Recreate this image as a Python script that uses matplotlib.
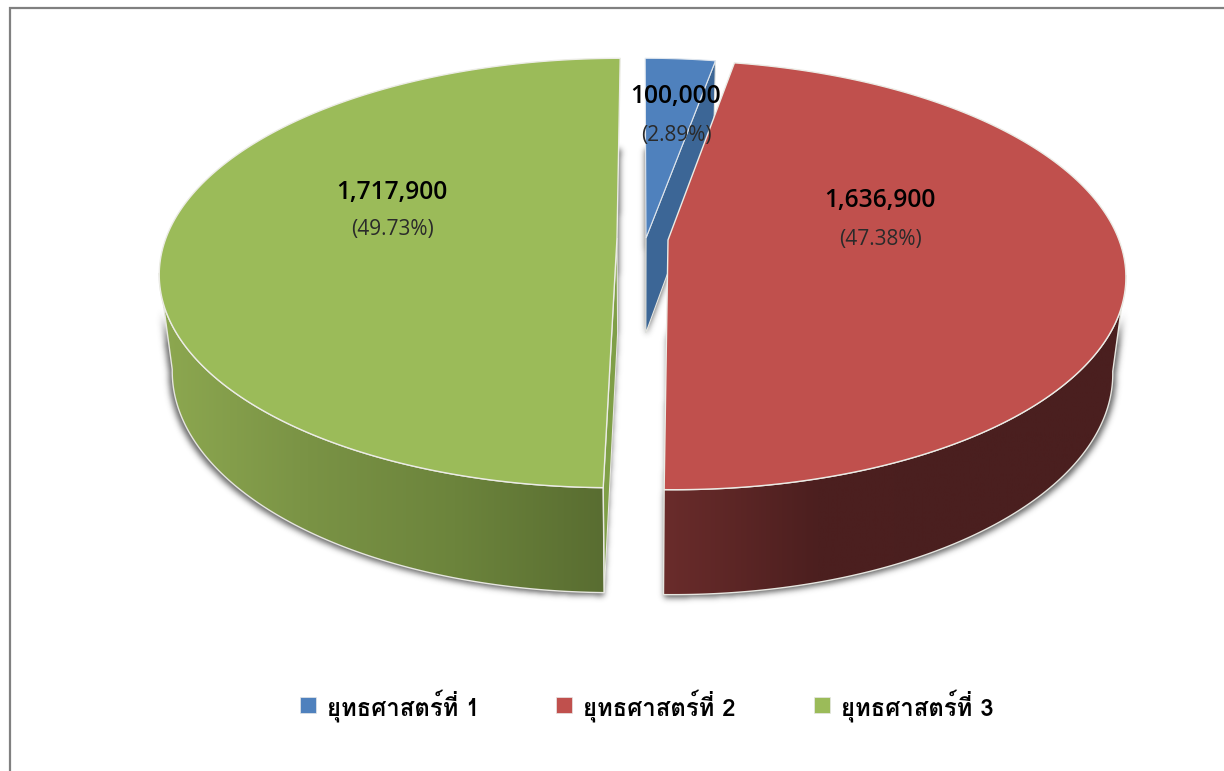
"""Exploded 3D pie of budget per strategy, drawn in pixel coordinates"""

import numpy as np
import matplotlib
matplotlib.use('Agg')
import matplotlib.pyplot as plt
from matplotlib.colors import LinearSegmentedColormap
from matplotlib.patches import Polygon, Rectangle
from matplotlib.path import Path

categories = ['ยุทธศาสตร์ที่ 1', 'ยุทธศาสตร์ที่ 2', 'ยุทธศาสตร์ที่ 3']
values = [100000, 1636900, 1717900]
percents = ['(2.89%)', '(47.38%)', '(49.73%)']
colors = ['#4F81BD', '#C0504D', '#9BBB59']

# Look of the 3D pie, in pixels
W, H = 1224, 771
VX = 640          # vanishing point x
K = 0.163         # perspective strength
A, B = 451, 209   # ellipse axes
SHRINK = 0.973    # the lower rim is a bit narrower
DEPTH = 95
apex = [(646, 238), (668, 240), (617, 238)]
label_pos = [(676, 97, 136), (880, 201, 240), (392, 192, 229)]
legend_x = [300, 556, 814]
WIDEST = np.arccos(-K)   # angle where the rim is widest on screen

fig = plt.figure(figsize=(W / 100, H / 100), dpi=100)
ax = fig.add_axes([0, 0, 1, 1])
ax.set_xlim(0, W)
ax.set_ylim(H, 0)
ax.axis('off')


def top_rim(theta, center):
    w = 1 + K * np.cos(theta)
    x = VX + (center[0] - VX + A * np.sin(theta)) / w
    y = center[1] - B * np.cos(theta) / w
    return np.column_stack([x, y]), w


def low_rim(pts, w):
    x = VX + (pts[:, 0] - VX) * SHRINK
    y = pts[:, 1] + DEPTH * w ** -0.56
    return np.column_stack([x, y])


def gradient_wall(poly, stops):
    patch = Polygon(poly, closed=True, facecolor='none', edgecolor='#e6e6e0', lw=1.0, zorder=3)
    ax.add_patch(patch)
    cmap = LinearSegmentedColormap.from_list('wall', stops)
    x0, x1 = poly[:, 0].min(), poly[:, 0].max()
    y0, y1 = poly[:, 1].min(), poly[:, 1].max()
    im = ax.imshow(np.linspace(0, 1, 256)[None, :], extent=(x0, x1, y1, y0), cmap=cmap,
                   aspect='auto', zorder=2.5)
    im.set_clip_path(patch)


# Slice angles, clockwise from the top
fractions = np.array(values) / sum(values)
edges = np.concatenate([[0], np.cumsum(fractions)]) * 2 * np.pi
ang = [np.linspace(edges[i], edges[i + 1], 240) for i in range(3)]

# Round walls of red and green
wall_polys = {}
for i, wall_range in [(1, (WIDEST, edges[2])), (2, (edges[2], 2 * np.pi - WIDEST))]:
    th = np.linspace(wall_range[0], wall_range[1], 240)
    rim, w = top_rim(th, apex[i])
    wall_polys[i] = np.vstack([rim, low_rim(rim, w)[::-1]])

# Soft shadow of the lower rims and the walls
yy, xx = np.mgrid[0:H, 0:W]
grid = np.column_stack([xx.ravel() + 0.5, yy.ravel() + 0.5])
mask = np.zeros(H * W)
shapes = list(wall_polys.values())
for i in range(3):
    rim, w = top_rim(ang[i], apex[i])
    shapes.append(low_rim(np.vstack([rim, [apex[i]]]), np.concatenate([w, np.ones(1)])))
for shape in shapes:
    low = shape.copy()
    low[:, 0] = VX + (low[:, 0] - VX) * 1.007
    low[:, 1] += 3
    mask += Path(low).contains_points(grid)
mask = np.clip(mask, 0, 1).reshape(H, W)
fy = np.fft.fftfreq(H)[:, None]
fx = np.fft.rfftfreq(W)[None, :]
sigma = 3.0
soft = np.fft.irfft2(np.fft.rfft2(mask) * np.exp(-2 * (np.pi * sigma) ** 2 * (fx ** 2 + fy ** 2)), s=(H, W))
# no shadow beside the widest part of the rim, it fades in lower down
fade = np.clip((yy - 305) / 40, 0, 1)
soft = np.where((xx < 300) | (xx > 1000), soft * fade, soft)
rgba = np.zeros((H, W, 4))
rgba[..., :3] = 0.2
rgba[..., 3] = np.clip(soft, 0, 1) * 0.75
ax.imshow(rgba, extent=(0, W, H, 0), aspect='auto', zorder=1)

# Blue: side wall and face
rim, w = top_rim(ang[0], apex[0])
end = rim[-1:]
wall = np.vstack([[apex[0]], end,
                  low_rim(end, w[-1:]),
                  low_rim(np.array([apex[0]], dtype=float), np.ones(1))])
ax.add_patch(Polygon(wall, closed=True, facecolor='#3C6696', edgecolor='#e6e6e0', lw=0.8, zorder=2))
ax.add_patch(Polygon(np.vstack([[apex[0]], rim]), closed=True, facecolor=colors[0],
                     edgecolor='#dfe6ee', lw=0.8, zorder=2.2))

# Red and green: round wall first, then the top face
wall_stops = {1: ['#6A2C2B', '#4C1F1F', '#4A1F1F', '#4A1F1F'],
              2: ['#8DA850', '#7A9345', '#6C843C', '#596D31']}
for i in (1, 2):
    gradient_wall(wall_polys[i], wall_stops[i])

# Thin sliver on the straight side of the green slice
rim, w = top_rim(ang[2], apex[2])
start = rim[:1]
sliver = np.vstack([[apex[2]], start, low_rim(start, w[:1]),
                    low_rim(np.array([apex[2]], dtype=float), np.ones(1))])
ax.add_patch(Polygon(sliver, closed=True, facecolor='#7F9F47', edgecolor='#e6e6e0', lw=0.8, zorder=2.8))

for i in (1, 2):
    rim, w = top_rim(ang[i], apex[i])
    ax.add_patch(Polygon(np.vstack([[apex[i]], rim]), closed=True, facecolor=colors[i],
                         edgecolor='#ececE6', lw=1.0, zorder=4))

# Data labels
for v, pct, (x, y1, y2) in zip(values, percents, label_pos):
    ax.text(x, y1, f'{v:,}', ha='center', va='center', fontsize=17.7, family=['Open Sans', 'DejaVu Sans'],
            weight=600, color='black', zorder=6)
    ax.text(x, y2, pct, ha='center', va='center', fontsize=15, family=['Open Sans', 'DejaVu Sans'],
            color='#2a2a2a', zorder=6)

# Frame
ax.plot([10, 10, W], [H, 8, 8], color='#808080', lw=1.6, solid_joinstyle='miter', zorder=7)

# Legend
for x, cat, col in zip(legend_x, categories, colors):
    ax.add_patch(Rectangle((x, 697), 16, 16, facecolor=col, edgecolor='#e8e8e8', lw=0.5, zorder=6))
    ax.text(x + 27, 716, cat, ha='left', va='baseline', fontsize=17.2, weight='bold',
            family=['Loma', 'DejaVu Sans'], color='black', zorder=6)

fig.savefig('out.png', dpi=100)
